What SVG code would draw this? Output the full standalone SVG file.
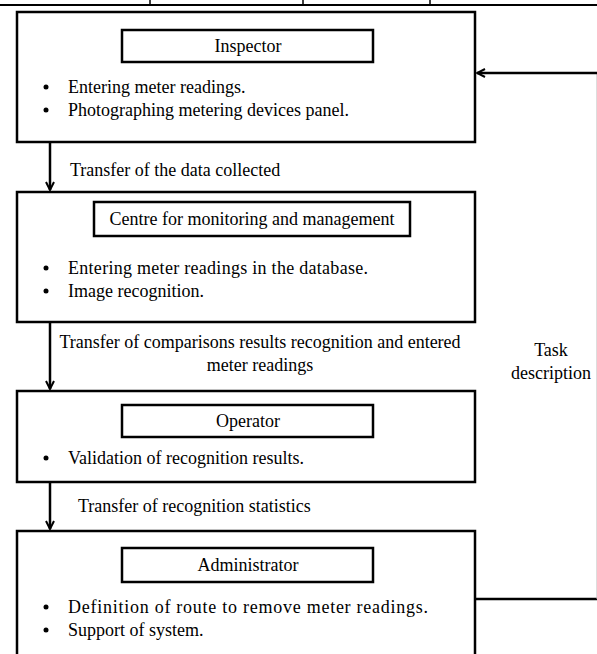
<svg xmlns="http://www.w3.org/2000/svg" width="597" height="654" viewBox="0 0 597 654">
<style>
.box{fill:#fff;stroke:#000;stroke-width:2.5}
.t{font-family:"Liberation Serif","Times New Roman",serif;font-size:18px;fill:#000}
.c{text-anchor:middle}
.ln{fill:none;stroke:#000;stroke-width:2.5}
.dot{fill:#000}
</style>
<defs>
<marker id="arr" viewBox="0 0 10 10" refX="9" refY="5" markerWidth="10" markerHeight="10" markerUnits="userSpaceOnUse" orient="auto">
<path d="M1,1 L9,5 L1,9" fill="none" stroke="#000" stroke-width="2"/>
</marker>
</defs>
<rect width="597" height="654" fill="#fff"/>
<g id="table-edge">
<line x1="0" y1="5" x2="597" y2="5" stroke="#000" stroke-width="2"/>
<line x1="150" y1="0" x2="150" y2="5" stroke="#000" stroke-width="1.5"/>
<line x1="303" y1="0" x2="303" y2="5" stroke="#000" stroke-width="1.5"/>
<line x1="430" y1="0" x2="430" y2="5" stroke="#000" stroke-width="1.5"/>
</g>
<g id="inspector">
<rect class="box" x="17" y="12" width="458" height="130"/>
<rect class="box" x="122" y="30" width="251" height="32"/>
<text class="t c" x="248" y="52">Inspector</text>
<circle class="dot" cx="46" cy="87" r="2.5"/>
<text class="t" x="68" y="93">Entering meter readings.</text>
<circle class="dot" cx="46" cy="110" r="2.5"/>
<text class="t" x="68" y="116">Photographing metering devices panel.</text>
</g>
<g id="centre">
<rect class="box" x="17" y="192" width="458" height="130"/>
<rect class="box" x="94" y="202" width="316" height="34"/>
<text class="t c" x="252" y="225">Centre for monitoring and management</text>
<circle class="dot" cx="46" cy="268" r="2.5"/>
<text class="t" x="68" y="274" textLength="300" lengthAdjust="spacing">Entering meter readings in the database.</text>
<circle class="dot" cx="46" cy="291" r="2.5"/>
<text class="t" x="68" y="297">Image recognition.</text>
</g>
<g id="operator">
<rect class="box" x="17" y="391" width="458" height="91"/>
<rect class="box" x="122" y="405" width="251" height="32"/>
<text class="t c" x="248" y="427">Operator</text>
<circle class="dot" cx="46" cy="458" r="2.5"/>
<text class="t" x="68" y="464">Validation of recognition results.</text>
</g>
<g id="administrator">
<rect class="box" x="17" y="531" width="458" height="130"/>
<rect class="box" x="122" y="548" width="251" height="34"/>
<text class="t c" x="248" y="571">Administrator</text>
<circle class="dot" cx="46" cy="607" r="2.5"/>
<text class="t" x="68" y="613" textLength="360" lengthAdjust="spacing">Definition of route to remove meter readings.</text>
<circle class="dot" cx="46" cy="630" r="2.5"/>
<text class="t" x="68" y="636">Support of system.</text>
</g>
<g id="connectors">
<line class="ln" x1="50" y1="142" x2="50" y2="190" marker-end="url(#arr)"/>
<line class="ln" x1="50" y1="322" x2="50" y2="389" marker-end="url(#arr)"/>
<line class="ln" x1="50" y1="482" x2="50" y2="529" marker-end="url(#arr)"/>
<line class="ln" x1="475" y1="599" x2="597" y2="599"/>
<line x1="597" y1="73" x2="597" y2="599" stroke="#bbb" stroke-width="1"/>
<line class="ln" x1="597" y1="73" x2="477" y2="73" marker-end="url(#arr)"/>
</g>
<g id="labels">
<text class="t" x="70" y="176">Transfer of the data collected</text>
<text class="t c" x="260" y="348">Transfer of comparisons results recognition and entered</text>
<text class="t c" x="260" y="371">meter readings</text>
<text class="t c" x="551" y="356">Task</text>
<text class="t c" x="551" y="379">description</text>
<text class="t" x="78" y="512">Transfer of recognition statistics</text>
</g>
</svg>
